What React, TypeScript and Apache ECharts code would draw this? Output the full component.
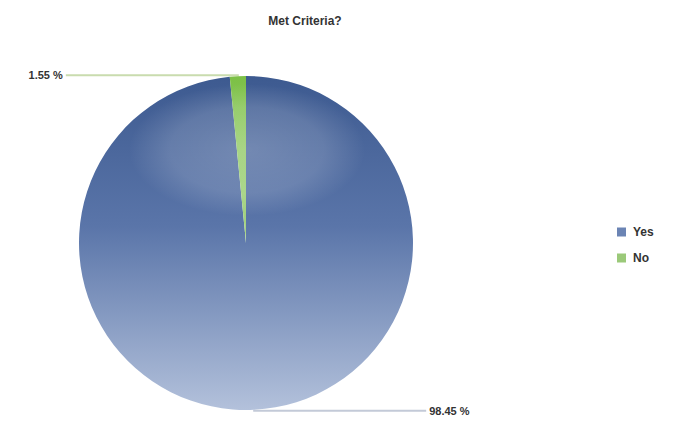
import React, { useEffect, useRef } from "react";
import * as echarts from "echarts";

const title = "Met Criteria?";
const categories = ["Yes", "No"];
const values = [98.45, 1.55];
const labels = ["98.45 %", "1.55 %"];

export default function App() {
  const ref = useRef<HTMLDivElement>(null);
  useEffect(() => {
    if (!ref.current) return;
    const chart = echarts.init(ref.current, undefined, { renderer: "svg" });
    const yesFill = new echarts.graphic.LinearGradient(0, 0, 0, 1, [
      { offset: 0, color: "#3d5a90" },
      { offset: 0.45, color: "#5a75a9" },
      { offset: 1, color: "#b3c1db" },
    ]);
    const noFill = new echarts.graphic.LinearGradient(0, 0, 0, 1, [
      { offset: 0, color: "#7cc046" },
      { offset: 1, color: "#a9d58a" },
    ]);
    const fills = [yesFill, noFill];
    const legendColors = ["#6b84b4", "#9bc979"];
    const lineColors = ["#c3cad8", "#c9dcae"];
    chart.setOption({
      animation: false,
      backgroundColor: "#ffffff",
      title: {
        text: title,
        left: 300,
        textAlign: "center",
        top: 10,
        textStyle: {
          fontFamily: "Liberation Sans, Arial, sans-serif",
          fontSize: 12,
          fontWeight: "bold",
          color: "#333333",
        },
      },
      legend: {
        orient: "vertical",
        left: 612,
        top: 221,
        itemWidth: 9,
        itemHeight: 9,
        itemGap: 14,
        icon: "rect",
        data: categories.map((c, i) => ({
          name: c,
          itemStyle: { color: legendColors[i] },
        })),
        textStyle: {
          fontFamily: "Liberation Sans, Arial, sans-serif",
          fontSize: 12,
          fontWeight: "bold",
          color: "#333333",
          padding: [0, 0, 0, 2],
        },
      },
      series: [
        {
          type: "pie",
          center: [246, 243],
          radius: 167,
          startAngle: 90,
          clockwise: true,
          label: {
            show: true,
            position: "outside",
            alignTo: "none",
            distanceToLabelLine: 3,
            fontFamily: "Liberation Sans, Arial, sans-serif",
            fontSize: 11,
            fontWeight: "bold",
            color: "#333333",
            formatter: (p: any) => labels[p.dataIndex],
          },
          labelLine: {
            show: true,
            length: 1,
            length2: 172,
            smooth: false,
            lineStyle: { width: 2 },
          },
          data: categories.map((c, i) => ({
            name: c,
            value: values[i],
            itemStyle: { color: fills[i], borderWidth: 0 },
            labelLine: { lineStyle: { color: lineColors[i], width: 2 } },
          })),
        },
      ],
      graphic: [
        {
          type: "ellipse",
          shape: { cx: 247, cy: 150, rx: 118, ry: 66 },
          silent: true,
          z: 100,
          style: {
            fill: new echarts.graphic.RadialGradient(0.5, 0.5, 0.5, [
              { offset: 0, color: "rgba(255,255,255,0.22)" },
              { offset: 0.65, color: "rgba(255,255,255,0.15)" },
              { offset: 1, color: "rgba(255,255,255,0)" },
            ]),
          },
        },
      ],
    });
    return () => chart.dispose();
  }, []);
  return (
    <div
      ref={ref}
      style={{ position: "fixed", left: 0, top: 0, width: 678, height: 421 }}
    />
  );
}
